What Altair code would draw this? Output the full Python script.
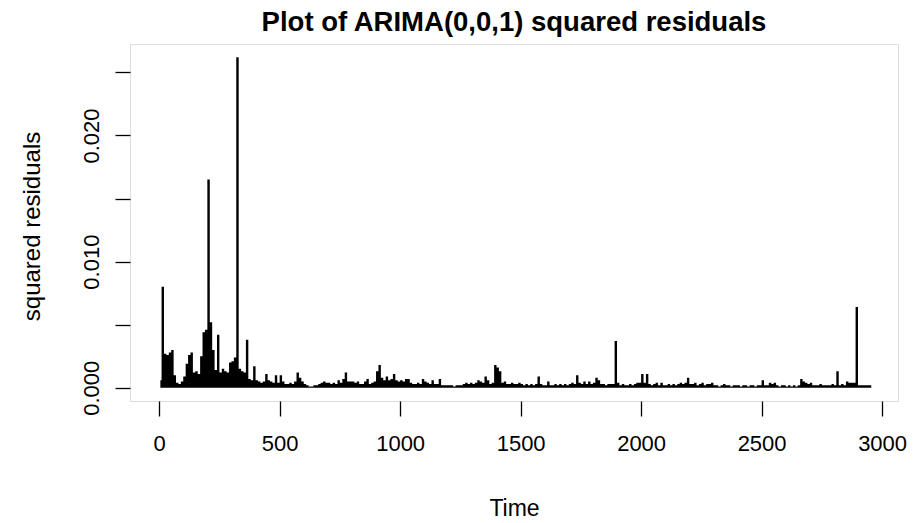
import altair as alt
import pandas as pd

# Squared residuals, maximum within each 10-step block of the series
sq_resid = [
    # 0 - 99
    0.0006, 0.0080, 0.0027, 0.0026, 0.0028, 0.0030, 0.0010, 0.0004, 0.0003, 0.0005,
    # 100 - 199
    0.0009, 0.0019, 0.0026, 0.0028, 0.0012, 0.0013, 0.0011, 0.0025, 0.0044, 0.0046,
    # 200 - 299
    0.0165, 0.0052, 0.0030, 0.0014, 0.0042, 0.0012, 0.0015, 0.0013, 0.0012, 0.0020,
    # 300 - 399
    0.0021, 0.0024, 0.0262, 0.0015, 0.0013, 0.0012, 0.0038, 0.0007, 0.0006, 0.0017,
    # 400 - 499
    0.0006, 0.0005, 0.0004, 0.0005, 0.0011, 0.0006, 0.0005, 0.0004, 0.0010, 0.0004,
    # 500 - 599
    0.0010, 0.0005, 0.0003, 0.0003, 0.0004, 0.0003, 0.0005, 0.0012, 0.0008, 0.0005,
    # 600 - 699
    0.0003, 0.0002, 0.0001, 0.0001, 0.0002, 0.0002, 0.0003, 0.0004, 0.0005, 0.0004,
    # 700 - 799
    0.0004, 0.0003, 0.0004, 0.0003, 0.0006, 0.0004, 0.0007, 0.0012, 0.0005, 0.0005,
    # 800 - 899
    0.0005, 0.0004, 0.0005, 0.0003, 0.0003, 0.0005, 0.0007, 0.0003, 0.0004, 0.0005,
    # 900 - 999
    0.0013, 0.0018, 0.0008, 0.0006, 0.0009, 0.0006, 0.0007, 0.0011, 0.0006, 0.0005,
    # 1000 - 1099
    0.0006, 0.0005, 0.0007, 0.0007, 0.0004, 0.0003, 0.0003, 0.0004, 0.0003, 0.0007,
    # 1100 - 1199
    0.0005, 0.0004, 0.0003, 0.0006, 0.0003, 0.0003, 0.0007, 0.0002, 0.0002, 0.0002,
    # 1200 - 1299
    0.0002, 0.0002, 0.0001, 0.0002, 0.0002, 0.0002, 0.0003, 0.0004, 0.0003, 0.0004,
    # 1300 - 1399
    0.0003, 0.0004, 0.0006, 0.0005, 0.0004, 0.0009, 0.0006, 0.0003, 0.0004, 0.0018,
    # 1400 - 1499
    0.0016, 0.0013, 0.0004, 0.0005, 0.0003, 0.0003, 0.0004, 0.0003, 0.0003, 0.0004,
    # 1500 - 1599
    0.0003, 0.0002, 0.0003, 0.0002, 0.0003, 0.0002, 0.0003, 0.0009, 0.0003, 0.0002,
    # 1600 - 1699
    0.0002, 0.0005, 0.0002, 0.0002, 0.0003, 0.0002, 0.0003, 0.0002, 0.0003, 0.0002,
    # 1700 - 1799
    0.0003, 0.0004, 0.0003, 0.0010, 0.0004, 0.0003, 0.0005, 0.0003, 0.0005, 0.0003,
    # 1800 - 1899
    0.0004, 0.0008, 0.0006, 0.0003, 0.0003, 0.0002, 0.0003, 0.0003, 0.0003, 0.0037,
    # 1900 - 1999
    0.0004, 0.0002, 0.0003, 0.0002, 0.0002, 0.0003, 0.0002, 0.0003, 0.0004, 0.0004,
    # 2000 - 2099
    0.0011, 0.0004, 0.0011, 0.0003, 0.0002, 0.0003, 0.0004, 0.0002, 0.0004, 0.0002,
    # 2100 - 2199
    0.0002, 0.0003, 0.0002, 0.0003, 0.0002, 0.0003, 0.0004, 0.0003, 0.0004, 0.0008,
    # 2200 - 2299
    0.0003, 0.0003, 0.0004, 0.0002, 0.0003, 0.0004, 0.0002, 0.0003, 0.0003, 0.0004,
    # 2300 - 2399
    0.0002, 0.0002, 0.0001, 0.0002, 0.0003, 0.0002, 0.0002, 0.0001, 0.0002, 0.0002,
    # 2400 - 2499
    0.0002, 0.0001, 0.0002, 0.0002, 0.0001, 0.0002, 0.0002, 0.0001, 0.0002, 0.0002,
    # 2500 - 2599
    0.0006, 0.0002, 0.0002, 0.0004, 0.0003, 0.0004, 0.0002, 0.0001, 0.0002, 0.0002,
    # 2600 - 2699
    0.0001, 0.0002, 0.0001, 0.0002, 0.0001, 0.0002, 0.0007, 0.0005, 0.0004, 0.0003,
    # 2700 - 2799
    0.0004, 0.0002, 0.0002, 0.0002, 0.0003, 0.0002, 0.0002, 0.0002, 0.0002, 0.0003,
    # 2800 - 2899
    0.0002, 0.0013, 0.0002, 0.0003, 0.0002, 0.0005, 0.0004, 0.0004, 0.0004, 0.0064,
    # 2900 - 2957
    0.0002, 0.0002, 0.0002, 0.0002, 0.0002, 0.0002,
]
time_index = [5 + 10 * i for i in range(len(sq_resid))]

x_ticks = [0, 500, 1000, 1500, 2000, 2500, 3000]
y_ticks = [0.0, 0.005, 0.010, 0.015, 0.020, 0.025]
y_labelled = [0.0, 0.010, 0.020]

df = pd.DataFrame({"Time": time_index, "value": sq_resid})

FONT = "Liberation Sans"

x_axis = alt.Axis(
    values=x_ticks, title="Time", grid=False, domain=False, format="d",
    tickColor="black", tickWidth=1.3, tickSize=15,
    labelFont=FONT, labelFontSize=22, labelColor="black", labelPadding=17,
    labelFlush=False, labelOverlap=False,
    titleFont=FONT, titleFontSize=23, titleFontWeight="normal", titleColor="black",
    titleX=384, titleY=107, titleBaseline="middle", titleAlign="center",
)

label_test = " || ".join(f"abs(datum.value - {v}) < 1e-9" for v in y_labelled)
y_axis = alt.Axis(
    values=y_ticks, title="squared residuals", grid=False, domain=False,
    tickColor="black", tickWidth=1.3, tickSize=15,
    labelFont=FONT, labelFontSize=22, labelColor="black", labelPadding=12,
    labelAngle=-90, labelAlign="center", labelBaseline="bottom",
    labelExpr=f"({label_test}) ? format(datum.value, '.3f') : ''",
    labelFlush=False, labelOverlap=False,
    titleFont=FONT, titleFontSize=24, titleFontWeight="normal", titleColor="black",
    titleAngle=-90, titleX=-98, titleY=182, titleBaseline="middle", titleAlign="center",
)

x_enc = alt.X("Time:Q", scale=alt.Scale(domain=[-121, 3066], nice=False, zero=False), axis=x_axis)
y_enc = alt.Y("value:Q", scale=alt.Scale(domain=[-0.00105, 0.02725], nice=False, zero=False), axis=y_axis)

chart = (
    alt.Chart(df)
    .mark_area(color="black", interpolate="step", opacity=1)
    .encode(x=x_enc, y=y_enc, y2=alt.datum(0))
    .properties(
        width=768,
        height=357,
        title=alt.TitleParams(
            "Plot of ARIMA(0,0,1) squared residuals",
            font=FONT, fontSize=27.5, fontWeight="bold", color="black",
            anchor="middle", offset=8,
        ),
        autosize=alt.AutoSizeParams(type="none"),
        padding={"left": 130, "top": 44, "right": 16, "bottom": 122},
    )
    .configure_view(stroke="black", strokeWidth=1.5)
    .configure(background="white")
)

chart.save("out.html", embed_options={"renderer": "svg", "actions": False})
